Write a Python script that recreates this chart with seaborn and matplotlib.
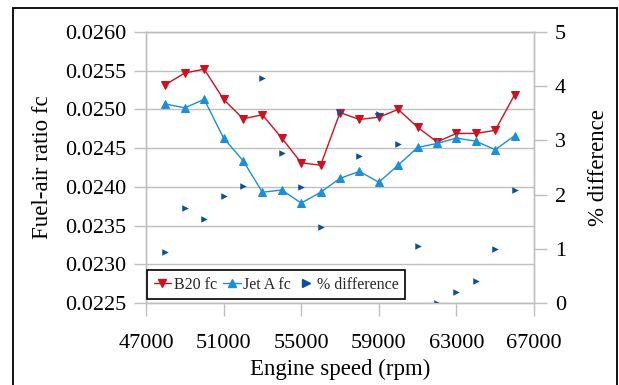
import matplotlib
matplotlib.use("Agg")
import matplotlib.pyplot as plt
import pandas as pd
import seaborn as sns
from matplotlib.patches import Rectangle
from matplotlib.lines import Line2D

# ---- data ----
speed = [48000, 49000, 50000, 51000, 52000, 53000, 54000, 55000, 56000, 57000,
         58000, 59000, 60000, 61000, 62000, 63000, 64000, 65000, 66000]
b20_fc = [0.02532, 0.02547, 0.02552, 0.02513, 0.02488, 0.02493, 0.02463, 0.02431,
          0.02428, 0.02496, 0.02487, 0.02490, 0.02500, 0.02477, 0.02458, 0.02469,
          0.02469, 0.02473, 0.02519]
jeta_fc = [0.02507, 0.02502, 0.02513, 0.02463, 0.02434, 0.02393, 0.02396, 0.02379,
           0.02393, 0.02411, 0.02420, 0.02406, 0.02428, 0.02451, 0.02456, 0.02463,
           0.02459, 0.02448, 0.02466]
pct_diff = [0.94, 1.76, 1.55, 1.98, 2.15, 4.16, 2.76, 2.14, 1.40, 3.52,
            2.71, 3.49, 2.94, 1.06, 0.00, 0.20, 0.40, 0.99, 2.09]
x_ticks = [47000, 51000, 55000, 59000, 63000, 67000]
left_ticks = [0.0225, 0.0230, 0.0235, 0.0240, 0.0245, 0.0250, 0.0255, 0.0260]
right_ticks = [0, 1, 2, 3, 4, 5]
series_labels = ["B20 fc", "Jet A fc", "% difference"]

RED = "#D0101E"
BLUE = "#1B8FDA"
DARK = "#0D4F96"
GRID = "#BFBFBF"

sns.set_theme(style="white")
plt.rcParams['font.family'] = ['Liberation Serif', 'DejaVu Serif']

df = pd.DataFrame({"speed": speed, "b20": b20_fc, "jeta": jeta_fc, "pct": pct_diff})

W, H = 619, 385
fig = plt.figure(figsize=(W / 100, H / 100), dpi=100)
L, R, T, B = 146, 534, 32, 303
ax = fig.add_axes([L / W, 1 - B / H, (R - L) / W, (B - T) / H])

sns.lineplot(data=df, x="speed", y="b20", ax=ax, color=RED, marker="v",
             markersize=5.5, markeredgecolor=RED, linewidth=1.0, legend=False)
sns.lineplot(data=df, x="speed", y="jeta", ax=ax, color=BLUE, marker="^",
             markersize=5.5, markeredgecolor=BLUE, linewidth=1.0, legend=False)

ax.set_xlim(x_ticks[0], x_ticks[-1])
ax.set_ylim(left_ticks[0], left_ticks[-1])
ax.set_xticks(x_ticks)
ax.set_xticklabels([str(v) for v in x_ticks])
ax.set_yticks(left_ticks)
ax.set_yticklabels([f"{v:.4f}" for v in left_ticks])
ax.yaxis.grid(True, color=GRID, linewidth=1.0)
ax.xaxis.grid(False)
ax.set_axisbelow(True)
for s in ax.spines.values():
    s.set_color(GRID)
    s.set_linewidth(1.0)
ax.tick_params(axis='x', direction='out', length=9, width=1, color=GRID,
               labelsize=16, pad=13, bottom=True, labelcolor="black")
ax.tick_params(axis='y', direction='out', length=9, width=1, color=GRID,
               labelsize=16, pad=5, left=True, labelcolor="black")

ax.set_xlabel("Engine speed (rpm)", fontsize=16.5, color="black")
ax.set_ylabel("Fuel-air ratio fc", fontsize=16.5, color="black")
ax.xaxis.set_label_coords(0.5, -0.205)
ax.yaxis.set_label_coords(-0.24, 0.5)

ax2 = ax.twinx()
sns.scatterplot(data=df, x="speed", y="pct", ax=ax2, marker=">", s=22,
                color=DARK, edgecolor=DARK, linewidth=0, legend=False)
ax2.set_ylim(right_ticks[0], right_ticks[-1])
ax2.set_yticks(right_ticks)
ax2.set_yticklabels([str(v) for v in right_ticks])
for s in ax2.spines.values():
    s.set_color(GRID)
    s.set_linewidth(1.0)
ax2.tick_params(axis='y', direction='out', length=9, width=1, color=GRID,
                labelsize=16, pad=6, right=True, labelcolor="black")
ax2.set_ylabel("% difference", fontsize=16.5, rotation=90, color="black")
ax2.yaxis.set_label_coords(1.14, 0.5)

handles = [
    Line2D([], [], color=RED, marker="v", markersize=6, linewidth=1.0),
    Line2D([], [], color=BLUE, marker="^", markersize=6, linewidth=1.0),
    Line2D([], [], color=DARK, marker=">", markersize=6, linestyle="none"),
]
leg = ax2.legend(handles, series_labels, loc="lower left",
                 bbox_to_anchor=(0.003, 0.015), borderaxespad=0, ncol=3,
                 frameon=True, fancybox=False, edgecolor="black",
                 fontsize=11.5, handlelength=1.1, handletextpad=0.15,
                 columnspacing=0.4, borderpad=0.4)
leg.get_frame().set_linewidth(1.2)
leg.get_frame().set_facecolor("white")
leg.get_frame().set_alpha(1)

fig.patches.append(Rectangle((13 / W, -0.1), (617 - 13) / W, 1.1 - 8 / H,
                             transform=fig.transFigure, fill=False,
                             edgecolor="black", linewidth=1.3))

fig.savefig("out.png", dpi=100)
